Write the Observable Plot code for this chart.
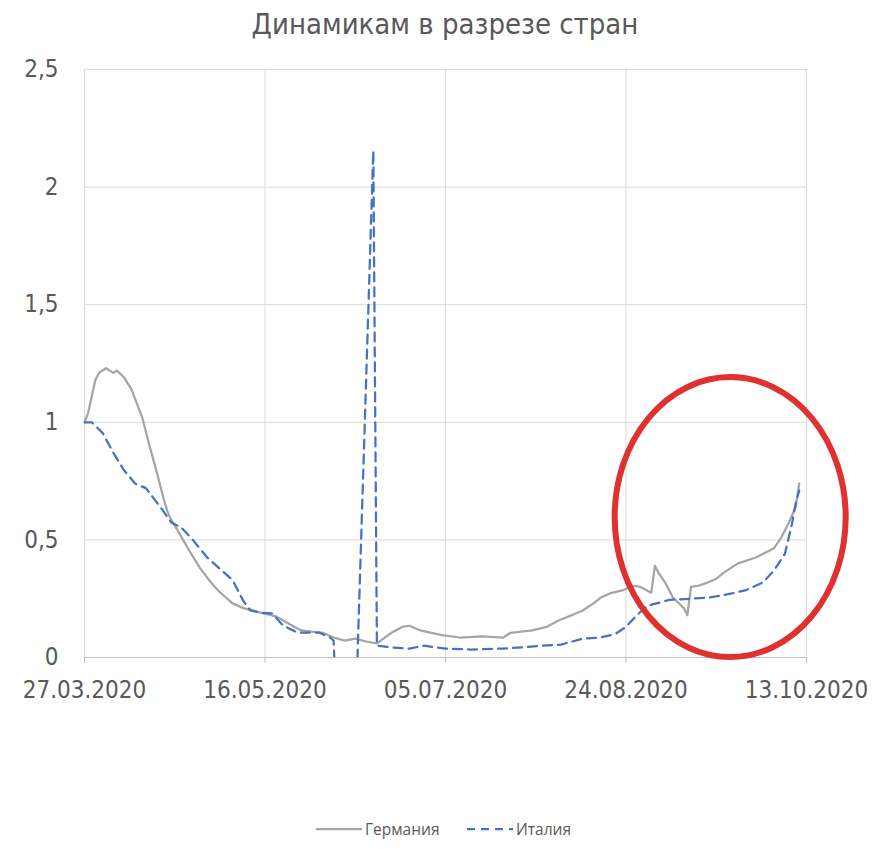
<!DOCTYPE html>
<html>
<head>
<meta charset="utf-8">
<script src="https://cdn.jsdelivr.net/npm/d3@7"></script>
<script src="https://cdn.jsdelivr.net/npm/@observablehq/plot@0.6"></script>
<style>
  html, body { margin: 0; padding: 0; background: #fff; }
  #wrap { position: relative; width: 890px; height: 849px; overflow: hidden; }
  #title { position: absolute; left: 0; top: 6px; width: 890px; text-align: center;
    font-family: "Liberation Sans Narrow", "DejaVu Sans Condensed", sans-serif; font-size: 29px;
    color: #595959; line-height: 36px; }
  #chart { position: absolute; left: 0; top: 50px; }
  #legend { position: absolute; left: 0; top: 816px; width: 890px; height: 26px;
    font-family: "Open Sans", "Noto Sans", sans-serif; font-size: 15.5px; color: #595959; }
  #legend .item { position: absolute; top: 0; height: 26px; display: flex; align-items: center; }
  #legend svg { display: block; margin-right: 3px; }
</style>
</head>
<body>
<div id="wrap">
  <div id="title">Динамикам в разрезе стран</div>
  <div id="chart"></div>
  <div id="legend"></div>
</div>
<script>
// ---- data ----
const seriesNames = ["Германия", "Италия"];

const germanyDates = ["2020-03-27","2020-03-28","2020-03-29","2020-03-30","2020-03-31","2020-04-01","2020-04-02","2020-04-04","2020-04-05","2020-04-07","2020-04-09","2020-04-12","2020-04-14","2020-04-16","2020-04-18","2020-04-19","2020-04-20","2020-04-22","2020-04-25","2020-04-28","2020-05-01","2020-05-03","2020-05-07","2020-05-10","2020-05-15","2020-05-19","2020-05-23","2020-05-26","2020-06-01","2020-06-04","2020-06-07","2020-06-10","2020-06-13","2020-06-16","2020-06-20","2020-06-23","2020-06-25","2020-06-28","2020-07-04","2020-07-09","2020-07-15","2020-07-21","2020-07-23","2020-07-29","2020-08-02","2020-08-05","2020-08-09","2020-08-12","2020-08-15","2020-08-17","2020-08-20","2020-08-23","2020-08-26","2020-08-28","2020-08-31","2020-09-01","2020-09-02","2020-09-04","2020-09-06","2020-09-09","2020-09-10","2020-09-11","2020-09-13","2020-09-15","2020-09-18","2020-09-20","2020-09-24","2020-09-29","2020-10-04","2020-10-06","2020-10-08","2020-10-10","2020-10-11"];
const germanyValues = [1.00,1.04,1.11,1.18,1.21,1.22,1.23,1.21,1.22,1.19,1.14,1.02,0.90,0.79,0.67,0.62,0.585,0.535,0.455,0.38,0.32,0.285,0.23,0.21,0.19,0.175,0.14,0.115,0.105,0.085,0.072,0.08,0.068,0.06,0.105,0.13,0.135,0.115,0.095,0.085,0.09,0.085,0.105,0.115,0.13,0.155,0.18,0.2,0.23,0.255,0.275,0.285,0.305,0.30,0.275,0.39,0.36,0.315,0.255,0.21,0.18,0.30,0.305,0.315,0.335,0.36,0.40,0.425,0.465,0.51,0.57,0.64,0.74];

const italyDates = ["2020-03-27","2020-03-29","2020-04-01","2020-04-04","2020-04-07","2020-04-10","2020-04-13","2020-04-15","2020-04-17","2020-04-20","2020-04-23","2020-04-26","2020-04-30","2020-05-04","2020-05-07","2020-05-10","2020-05-12","2020-05-15","2020-05-18","2020-05-21","2020-05-25","2020-05-31","2020-06-03","2020-06-04","2020-06-05","2020-06-10","2020-06-15","2020-06-16","2020-06-20","2020-06-25","2020-06-29","2020-07-05","2020-07-12","2020-07-21","2020-07-26","2020-08-01","2020-08-06","2020-08-12","2020-08-17","2020-08-21","2020-08-24","2020-08-27","2020-08-30","2020-09-05","2020-09-11","2020-09-16","2020-09-20","2020-09-26","2020-10-01","2020-10-04","2020-10-07","2020-10-09","2020-10-10","2020-10-11"];
const italyValues = [1.00,1.00,0.955,0.87,0.795,0.74,0.72,0.68,0.64,0.575,0.55,0.50,0.425,0.37,0.33,0.24,0.20,0.19,0.187,0.136,0.106,0.106,0.085,0.072,-0.3,-0.3,2.155,0.05,0.043,0.038,0.05,0.038,0.034,0.038,0.043,0.05,0.055,0.08,0.085,0.10,0.13,0.18,0.22,0.245,0.25,0.255,0.265,0.285,0.32,0.37,0.44,0.57,0.655,0.71];

const xTickDates = ["2020-03-27","2020-05-16","2020-07-05","2020-08-24","2020-10-13"];
const yTicks = [0, 0.5, 1, 1.5, 2, 2.5];

// annotation ellipse (data units): center date/value, half-width in days, half-height in value
const ellipseCenter = ["2020-09-22", 0.595];
const ellipseRadii = [32, 0.595];

const colors = { "Германия": "#a5a5a5", "Италия": "#4472c4" };
const dash = "9,6";

// ---- build ----
const parse = d3.utcParse("%Y-%m-%d");
const germany = germanyDates.map((d, i) => ({date: parse(d), value: germanyValues[i]}));
const italy = italyDates.map((d, i) => ({date: parse(d), value: italyValues[i]}));
const xTicks = xTickDates.map(parse);
const fmt = d3.utcFormat("%d.%m.%Y");
const axisFont = "'Liberation Sans Narrow', 'DejaVu Sans Condensed', sans-serif";

const plot = Plot.plot({
  width: 890,
  height: 760,
  marginTop: 19,
  marginBottom: 153,
  marginLeft: 84,
  marginRight: 84,
  style: { fontFamily: axisFont, fontSize: "24px", color: "#595959", background: "white", overflow: "visible" },
  x: { type: "utc", domain: [xTicks[0], xTicks[xTicks.length - 1]] },
  y: { domain: [0, 2.5] },
  marks: [
    Plot.gridY(yTicks, { stroke: "#d9d9d9", strokeOpacity: 1, strokeWidth: 1 }),
    Plot.gridX(xTicks, { stroke: "#d9d9d9", strokeOpacity: 1, strokeWidth: 1 }),
    Plot.ruleY([0], { stroke: "#bfbfbf", strokeWidth: 1 }),
    Plot.axisY(yTicks, { tickSize: 0, tickPadding: 26, tickFormat: d => String(d).replace(".", ","), fill: "#595959", label: null }),
    Plot.axisX(xTicks, { tickSize: 6, tickPadding: 17, tickFormat: fmt, stroke: "#bfbfbf", fill: "#595959", label: null }),
    Plot.line(germany, { x: "date", y: "value", stroke: colors["Германия"], strokeWidth: 2.25, curve: "linear" }),
    Plot.line(italy, { x: "date", y: "value", stroke: colors["Италия"], strokeWidth: 2.25, strokeDasharray: dash, clip: true })
  ]
});
document.getElementById("chart").appendChild(plot);

// annotation ellipse placed through the plot's own scales
const sx = plot.scale("x"), sy = plot.scale("y");
const c = parse(ellipseCenter[0]);
const cx = sx.apply(c);
const cy = sy.apply(ellipseCenter[1]);
const rx = sx.apply(d3.utcDay.offset(c, ellipseRadii[0])) - cx;
const ry = cy - sy.apply(ellipseCenter[1] + ellipseRadii[1]);
d3.select(plot).append("ellipse")
  .attr("cx", cx).attr("cy", cy).attr("rx", rx).attr("ry", ry)
  .attr("fill", "none").attr("stroke", "#e03131").attr("stroke-width", 6);

// legend
const legend = document.getElementById("legend");
const items = [
  { name: seriesNames[0], left: 316, color: colors["Германия"], dash: null },
  { name: seriesNames[1], left: 467, color: colors["Италия"], dash: "8,6" }
];
for (const it of items) {
  const div = document.createElement("div");
  div.className = "item";
  div.style.left = it.left + "px";
  div.innerHTML = `<svg width="46" height="4"><line x1="0" x2="46" y1="2" y2="2" stroke="${it.color}" stroke-width="2.25" ${it.dash ? `stroke-dasharray="${it.dash}"` : ""}/></svg><span>${it.name}</span>`;
  legend.appendChild(div);
}
</script>
</body>
</html>
